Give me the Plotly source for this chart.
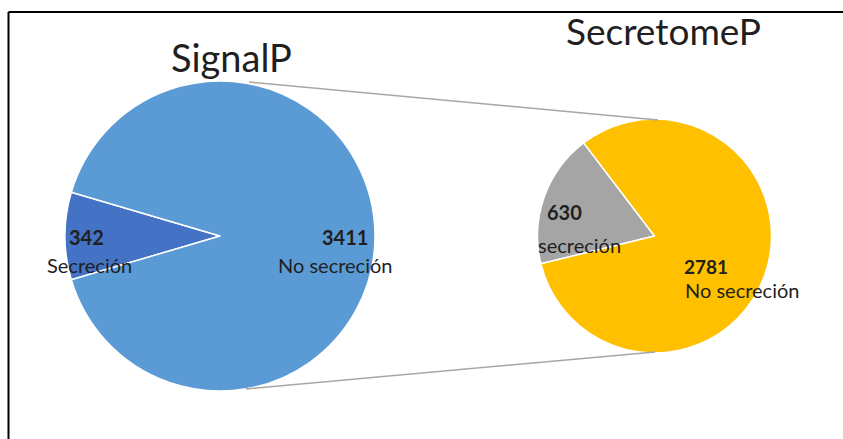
import plotly.graph_objects as go

W, H = 843, 439

# Data
signalp_labels = ["Secreción", "No secreción"]
signalp_values = [342, 3411]
secretome_labels = ["secreción", "No secreción"]
secretome_values = [630, 2781]
titles = ["SignalP", "SecretomeP"]

signalp_colors = ["#4472C4", "#5B9BD5"]
secretome_colors = ["#A5A5A5", "#FFC000"]

FONT = "Lato, Carlito, Calibri, sans-serif"
TXT = "#1f1f1f"


def px_x(x):
    return x / W


def px_y(y):
    return 1 - y / H


def domain(cx, cy, r):
    return dict(x=[px_x(cx - r), px_x(cx + r)], y=[px_y(cy + r), px_y(cy - r)])


# pie geometry in pixels
L_CX, L_CY, L_R = 220, 236, 155
R_CX, R_CY, R_R = 654.5, 236, 117

# first slice of the SignalP pie centred at 9 o'clock
l_frac = signalp_values[0] / sum(signalp_values)
l_rot = 270 - l_frac * 360 / 2
# first slice of the SecretomeP pie centred slightly above 9 o'clock
r_frac = secretome_values[0] / sum(secretome_values)
r_rot = 289.5 - r_frac * 360 / 2

fig = go.Figure()
fig.add_trace(go.Pie(
    labels=signalp_labels, values=signalp_values, sort=False,
    direction="clockwise", rotation=l_rot,
    marker=dict(colors=signalp_colors, line=dict(color="white", width=1.5)),
    textinfo="none", hoverinfo="label+value", showlegend=False,
    domain=domain(L_CX, L_CY, L_R),
))
fig.add_trace(go.Pie(
    labels=secretome_labels, values=secretome_values, sort=False,
    direction="clockwise", rotation=r_rot,
    marker=dict(colors=secretome_colors, line=dict(color="white", width=1.5)),
    textinfo="none", hoverinfo="label+value", showlegend=False,
    domain=domain(R_CX, R_CY, R_R),
))

shapes = [
    # frame
    dict(type="line", xref="paper", yref="paper", x0=px_x(8.5), x1=1.01,
         y0=px_y(12), y1=px_y(12), line=dict(color="black", width=2)),
    dict(type="line", xref="paper", yref="paper", x0=px_x(8.5), x1=px_x(8.5),
         y0=px_y(12), y1=-0.01, line=dict(color="black", width=2)),
    # connector lines between the two pies
    dict(type="line", xref="paper", yref="paper", x0=px_x(249), y0=px_y(82),
         x1=px_x(658), y1=px_y(120), line=dict(color="#A6A6A6", width=1.5)),
    dict(type="line", xref="paper", yref="paper", x0=px_x(246), y0=px_y(389),
         x1=px_x(655), y1=px_y(352), line=dict(color="#A6A6A6", width=1.5)),
]


def ann(text, x, y, size, bold=False, xanchor="center"):
    return dict(
        text=f"<b>{text}</b>" if bold else text,
        x=px_x(x), y=px_y(y), xref="paper", yref="paper",
        xanchor=xanchor, yanchor="middle", showarrow=False,
        font=dict(family=FONT, size=size, color=TXT),
    )


annotations = [
    ann(titles[0], 231, 57, 38),
    ann(titles[1], 663, 30, 37),
    ann(signalp_values[0], 86, 237, 20, bold=True),
    ann(signalp_labels[0], 89, 265, 20),
    ann(signalp_values[1], 345, 237, 20, bold=True),
    ann(signalp_labels[1], 335, 265, 20),
    ann(secretome_values[0], 564, 212, 20, bold=True),
    ann(secretome_labels[0], 579, 245, 20),
    ann(secretome_values[1], 706, 266, 19, bold=True),
    ann(secretome_labels[1], 742, 290, 20),
]

fig.update_layout(
    width=W, height=H,
    margin=dict(l=0, r=0, t=0, b=0),
    paper_bgcolor="white", plot_bgcolor="white",
    shapes=shapes, annotations=annotations,
    font=dict(family=FONT, color=TXT),
)

fig.write_html("out.html")
